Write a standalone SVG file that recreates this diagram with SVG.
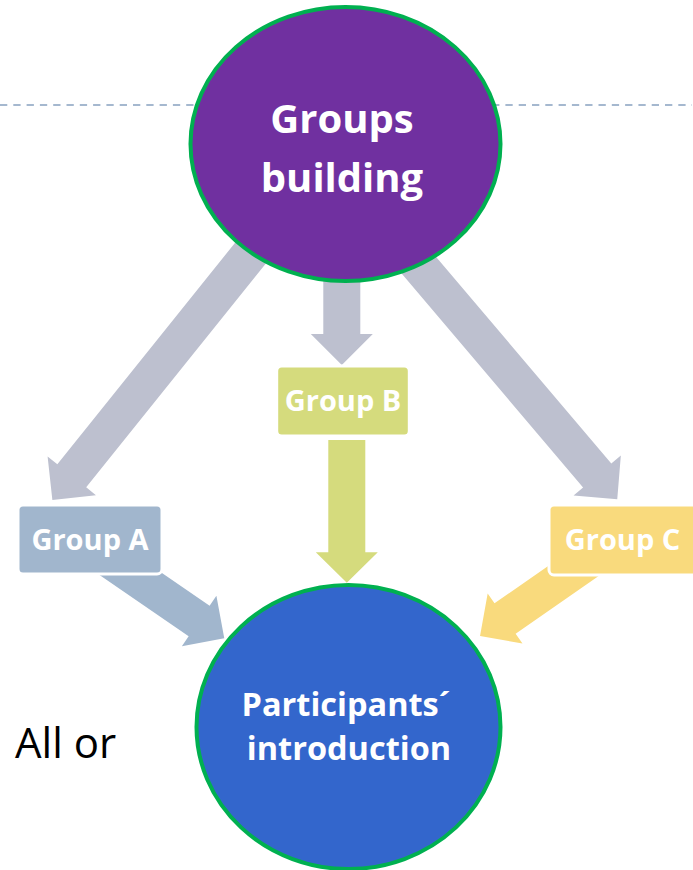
<svg xmlns="http://www.w3.org/2000/svg" width="693" height="870" viewBox="0 0 693 870">
<style>
.node-text{font-family:"Open Sans","Liberation Sans",sans-serif;font-weight:bold;fill:#FFFFFF;text-anchor:middle}
.big{font-size:40px}
.mid{font-size:32.5px}
.box-text{font-size:29px}
.circle{stroke:#00B050;stroke-width:4}
.box{stroke:#FFFFFF;stroke-width:3}
.gray{fill:#BDC0CF}
.plain{font-family:"Open Sans","Liberation Sans",sans-serif;font-size:42px;fill:#000000}
</style>
<rect width="693" height="870" fill="#FFFFFF"/>
<line x1="0" y1="105" x2="692" y2="105" stroke="#A5B8CF" stroke-width="2" stroke-dasharray="7.3 6"/>
<text class="plain" x="15" y="758">All or</text>
<g id="connectors">
  <path class="gray" transform="translate(277.7,219.2) rotate(128.75)" d="M0,-18.5 H329 V-31 L360,0 L329,31 V18.5 H0 Z"/>
  <path class="gray" transform="translate(384.4,224.6) rotate(49.7)" d="M0,-18.5 H329 V-31 L360,0 L329,31 V18.5 H0 Z"/>
  <path class="gray" transform="translate(341.8,200) rotate(90)" d="M0,-18.5 H134 V-31 L165,0 L134,31 V18.5 H0 Z"/>
  <path fill="#D5DB7D" transform="translate(346.8,440) rotate(90)" d="M0,-18.5 H112.3 V-31 L142.7,0 L112.3,31 V18.5 H0 Z"/>
  <path fill="#A1B6CD" transform="translate(106,557) rotate(34.5)" d="M0,-18.5 H113 V-30.5 L143.5,0 L113,30.5 V18.5 H0 Z"/>
  <path fill="#F9DA7D" transform="translate(603.2,550.3) rotate(145.2)" d="M0,-18.5 H119.5 V-30.5 L150,0 L119.5,30.5 V18.5 H0 Z"/>
</g>
<g id="groups-building">
  <ellipse class="circle" cx="345.5" cy="144" rx="155" ry="137" fill="#7030A0"/>
  <text class="node-text big" x="342" y="133">Groups</text>
  <text class="node-text big" x="342" y="192">building</text>
</g>
<g id="group-a">
  <rect class="box" x="18" y="505" width="144" height="69" rx="5" fill="#A1B6CD"/>
  <text class="node-text box-text" x="90" y="550">Group A</text>
</g>
<g id="group-b">
  <rect class="box" x="276.7" y="366" width="132.6" height="70" rx="5" fill="#D5DB7D"/>
  <text class="node-text box-text" x="343" y="411">Group B</text>
</g>
<g id="group-c">
  <rect class="box" x="549" y="505" width="148" height="70" rx="5" fill="#F9DA7D"/>
  <text class="node-text box-text" x="622.5" y="550">Group C</text>
</g>
<g id="participants-introduction">
  <ellipse class="circle" cx="348.5" cy="727" rx="152" ry="142" fill="#3366CC"/>
  <text class="node-text mid" x="346" y="716">Participants´</text>
  <text class="node-text mid" x="349" y="760">introduction</text>
</g>
</svg>
